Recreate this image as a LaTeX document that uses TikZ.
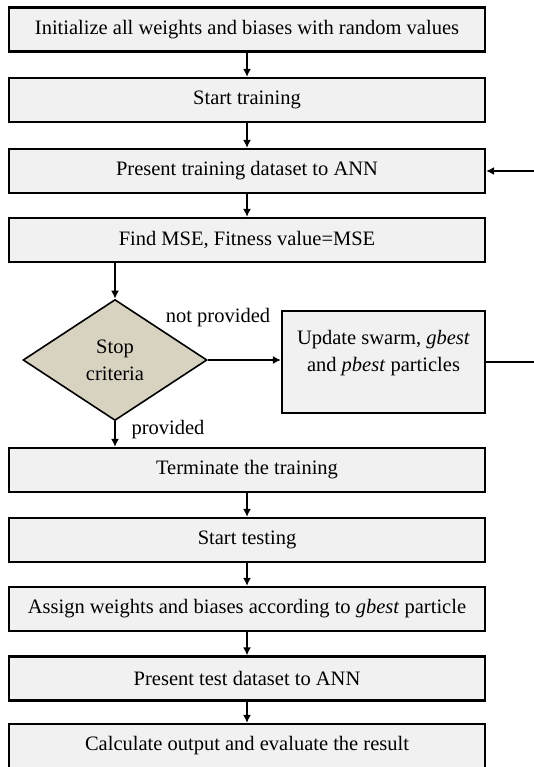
\documentclass[tikz,border=0pt]{standalone}
\usepackage{fontspec}
\setmainfont{Liberation Serif}
\usetikzlibrary{shapes.geometric,arrows.meta}
\definecolor{boxgray}{RGB}{241,241,241}
\definecolor{stoptan}{RGB}{216,211,193}
\begin{document}
\begin{tikzpicture}[x=1pt,y=-1pt,
  font=\fontsize{20.5}{27}\selectfont,
  stepbox/.style={draw,fill=boxgray,line width=2.2pt,minimum width=476pt,minimum height=44pt,inner sep=0pt},
  arr/.style={line width=1.6pt,-{Latex[length=8pt,width=8pt]}}]
\useasboundingbox (0,0) rectangle (534,767);
\node[stepbox](init) at (247,29.5) {Initialize all weights and biases with random values};
\node[stepbox](strain) at (247,100) {Start training};
\node[stepbox](ptrain) at (247,171) {Present training dataset to ANN};
\node[stepbox](mse) at (247,240) {Find MSE, Fitness value=MSE};
\node[draw,diamond,fill=stoptan,line width=1.6pt,aspect=1.52,minimum width=184pt,minimum height=121pt,inner sep=0pt,align=center](stop) at (115,360) {Stop\\criteria};
\node[stepbox,minimum width=203pt,minimum height=102pt,align=center,text depth=22pt](upd) at (383.5,362) {Update swarm, \textit{gbest}\\and \textit{pbest} particles};
\node(np) at (218,318) {not provided};
\node(pr) at (168,430) {provided};
\node[stepbox](term) at (247,470) {Terminate the training};
\node[stepbox](stest) at (247,540) {Start testing};
\node[stepbox](assign) at (247,609) {Assign weights and biases according to \textit{gbest} particle};
\node[stepbox](ptest) at (247,678.5) {Present test dataset to ANN};
\node[stepbox](calc) at (247,746) {Calculate output and evaluate the result};

\draw[arr] (init) -- (strain);
\draw[arr] (strain) -- (ptrain);
\draw[arr] (ptrain) -- (mse);
\draw[arr] (mse.south -| stop.north) -- (stop.north);
\draw[arr] (stop.east) -- (upd.west |- stop.east);
\draw[arr] (upd.east) -- ++(52,0) |- (ptrain.east);
\draw[arr] (stop.south) -- (term.north -| stop.south);
\draw[arr] (term) -- (stest);
\draw[arr] (stest) -- (assign);
\draw[arr] (assign) -- (ptest);
\draw[arr] (ptest) -- (calc);
\end{tikzpicture}
\end{document}
